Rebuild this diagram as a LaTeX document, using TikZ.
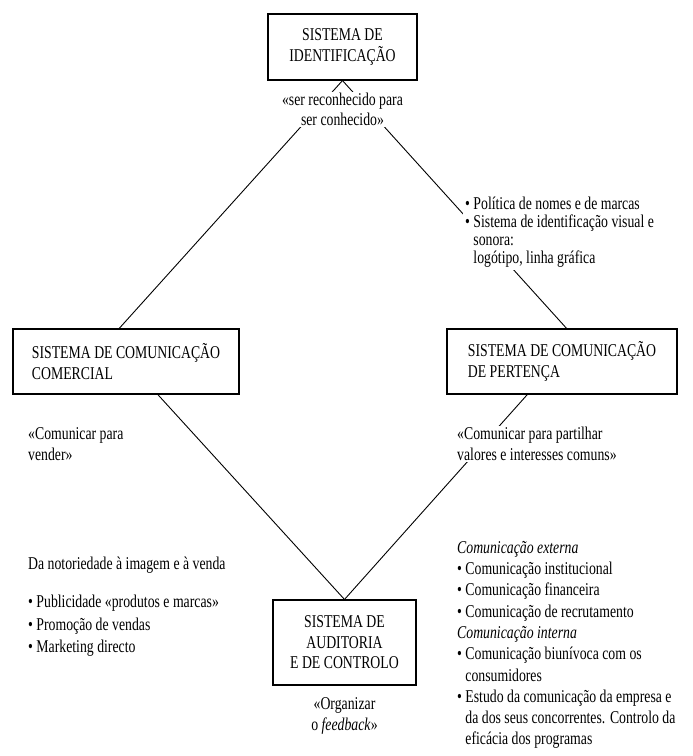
\documentclass[tikz,border=0pt]{standalone}
\usepackage{fontspec}
\setmainfont{Liberation Serif}[FakeStretch=0.765]
\usetikzlibrary{
  positioning,
  calc}

\newcommand{\listdot}{\textbullet\ }
\newcommand{\listgap}{\phantom{\textbullet\ }}

\tikzset{
  %% sysbox : one of the four systems
  sysbox/.style={
    rectangle,
    draw=black,
    line width=1.1pt,
    align=center,
    inner sep=0pt
  },
  %% quote : the motto of a system
  quote/.style={
    fill=white,
    inner sep=1pt
  },
  %% notes : the lists beside a system
  notes/.style={
    fill=white,
    inner sep=2pt,
    align=left
  },
  %% link : line between two systems
  link/.style={line width=0.9pt}
}

\begin{document}
\begin{tikzpicture}
  [x=1pt,
  y=-1pt,
  font=\fontsize{18}{20.5}\selectfont]

  \useasboundingbox (0, 0) rectangle (693, 756);

  %% Systems
  \node (identification) [sysbox, minimum width=149pt, minimum height=66pt]
  at (342.5, 47) {%
    SISTEMA DE\\
    IDENTIFICAÇÃO
  };

  \node (commercial) [sysbox, align=left, minimum width=226pt, minimum height=65pt]
  at (126, 361.5) {%
    SISTEMA DE COMUNICAÇÃO\\
    COMERCIAL
  };

  \node (belonging) [sysbox, align=left, minimum width=230pt, minimum height=65pt]
  at (562, 361.5) {%
    SISTEMA DE COMUNICAÇÃO\\
    DE PERTENÇA
  };

  \node (audit) [sysbox, minimum width=143pt, minimum height=85pt]
  at (344.5, 642.5) {%
    SISTEMA DE\\
    AUDITORIA\\
    E DE CONTROLO
  };

  %% Connections
  \draw [link] (identification.south) --
  ($(commercial.north west)!0.47!(commercial.north east)$);
  \draw [link] (identification.south) --
  ($(belonging.north west)!0.52!(belonging.north east)$);
  \draw [link] ($(commercial.south west)!0.64!(commercial.south east)$) --
  (audit.north);
  \draw [link] ($(belonging.south west)!0.35!(belonging.south east)$) --
  (audit.north);

  %% Identification
  \node (identquote) [quote, align=center, below=11pt of identification]{%
    «ser reconhecido para\\
    ser conhecido»
  };

  \node (identnotes) [notes, anchor=west, font=\fontsize{18}{18}\selectfont]
  at (463, 232.5) {%
    \listdot Política de nomes e de marcas\\
    \listdot Sistema de identificação visual e\\
    \listgap sonora:\\
    \listgap logótipo, linha gráfica
  };

  %% Commercial
  \node (commercialquote) [quote, align=left, anchor=west] at (27, 444) {%
    «Comunicar para\\
    vender»
  };

  \node (commercialtitle) [notes, anchor=west] at (26, 565) {%
    Da notoriedade à imagem e à venda
  };

  \node (commercialnotes) [notes, anchor=west, font=\fontsize{18}{22.5}\selectfont]
  at (26, 626) {%
    \listdot Publicidade «produtos e marcas»\\
    \listdot Promoção de vendas\\
    \listdot Marketing directo
  };

  %% Belonging
  \node (belongingquote) [quote, align=left, anchor=west] at (456, 444) {%
    «Comunicar para partilhar\\
    valores e interesses comuns»
  };

  \node (belongingnotes) [notes, anchor=west, font=\fontsize{18}{21.3}\selectfont]
  at (455, 645) {%
    \textit{Comunicação externa}\\
    \listdot Comunicação institucional\\
    \listdot Comunicação financeira\\
    \listdot Comunicação de recrutamento\\
    \textit{Comunicação interna}\\
    \listdot Comunicação biunívoca com os\\
    \listgap consumidores\\
    \listdot Estudo da comunicação da empresa e\\
    \listgap da dos seus concorrentes. Controlo da\\
    \listgap eficácia dos programas
  };

  %% Audit
  \node (auditquote) [quote, align=center, below=11pt of audit]{%
    «Organizar\\
    o \textit{feedback}»
  };

\end{tikzpicture}
\end{document}
